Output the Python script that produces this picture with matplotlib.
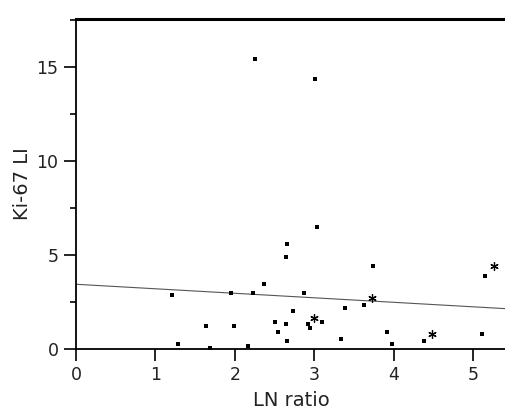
import matplotlib
matplotlib.use("Agg")
import matplotlib.pyplot as plt
from matplotlib.ticker import MultipleLocator

plt.rcParams['font.family'] = ['DejaVu Sans']

# cases shown as dots
ln_ratio = [1.21, 1.28, 1.64, 1.69, 1.95, 1.99, 2.17, 2.23, 2.25, 2.36, 2.50,
            2.54, 2.64, 2.64, 2.66, 2.66, 2.73, 2.87, 2.92, 2.94, 3.01, 3.03,
            3.10, 3.33, 3.38, 3.63, 3.74, 3.91, 3.98, 4.38, 5.11, 5.14]
ki67 = [2.89, 0.27, 1.24, 0.07, 2.96, 1.24, 0.16, 3.00, 15.43, 3.46, 1.42,
        0.92, 1.33, 4.91, 5.60, 0.44, 2.00, 2.96, 1.33, 1.12, 14.35, 6.49,
        1.42, 0.53, 2.20, 2.31, 4.43, 0.90, 0.25, 0.44, 0.81, 3.90]

# cases shown as asterisks
ln_ratio_star = [2.99, 3.73, 4.48, 5.26]
ki67_star = [1.63, 2.71, 0.81, 4.41]

# regression line ends
fit_x = [0.0, 5.41]
fit_y = [3.44, 2.14]

fig = plt.figure(figsize=(5.06, 4.09), dpi=100)
ax = fig.add_axes([0.150, 0.147, 0.85, 0.806])

ax.plot(fit_x, fit_y, color='#555555', lw=0.8)
ax.plot(ln_ratio, ki67, 's', color='black', ms=2.2, mew=0)
ax.plot(ln_ratio_star, ki67_star, marker=(6, 2, 0), ls='none', color='black',
        ms=6, mew=0.9)

ax.set_xlim(0, 5.41)
ax.set_ylim(0, 17.55)
ax.xaxis.set_major_locator(MultipleLocator(1))
ax.yaxis.set_major_locator(MultipleLocator(5))
ax.yaxis.set_minor_locator(MultipleLocator(2.5))

ax.spines['right'].set_visible(False)
ax.spines['top'].set_linewidth(2.2)
ax.spines['left'].set_linewidth(1.3)
ax.spines['bottom'].set_linewidth(1.3)
ax.tick_params(which='major', direction='out', length=8.5, width=1.2,
               labelsize=12.5, pad=4, labelcolor='#222222')
ax.tick_params(which='minor', direction='out', length=4, width=1.2)

ax.set_xlabel("LN ratio", fontsize=14, labelpad=5, color='#222222')
ax.set_ylabel("Ki-67 LI", fontsize=14, labelpad=3, color='#222222')

fig.savefig("out.png", dpi=100)
